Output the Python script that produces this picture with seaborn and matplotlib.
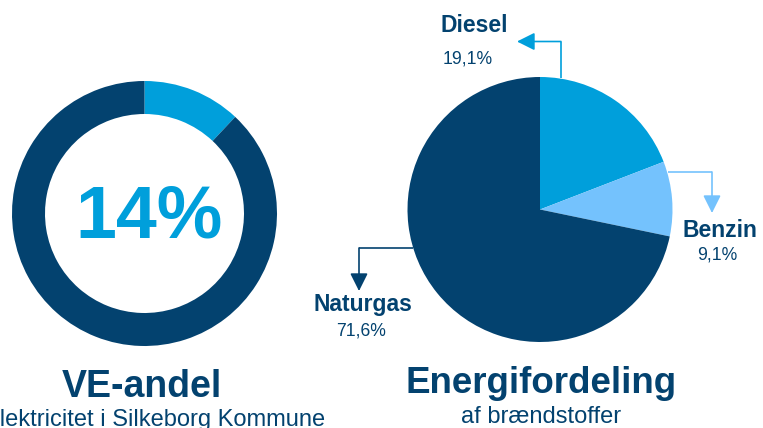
import matplotlib.pyplot as plt
import seaborn as sns

# data
ve_label = "14%"
ve_parts = [12, 88]          # share drawn in ring (VE, rest)
fuel_names = ["Diesel", "Benzin", "Naturgas"]
fuel_share = [19.1, 9.1, 71.6]
fuel_labels = ["19,1%", "9,1%", "71,6%"]

navy = "#03426F"
mid = "#009FDB"
light = "#74C2FD"
fuel_colors = [mid, light, navy]

sns.set_theme(style="white")
plt.rcParams['font.family'] = ['Liberation Sans', 'DejaVu Sans']

W, H = 763, 428
fig = plt.figure(figsize=(W / 100, H / 100), dpi=100)
ax = fig.add_axes([0, 0, 1, 1])

def Y(y):
    # pixel row -> axis y
    return H - y

# donut (VE-andel)
ax.pie(ve_parts, colors=[mid, navy], radius=132.5, center=(144.5, Y(213.5)),
       startangle=90, counterclock=False,
       wedgeprops=dict(width=33, linewidth=0))
ax.text(149, Y(237), ve_label, ha='center', va='baseline', fontsize=53,
        fontweight='bold', color=mid)
ax.text(142, Y(397), "VE-andel", ha='center', va='baseline', fontsize=27,
        fontweight='bold', color=navy)
ax.text(325, Y(426), "Elektricitet i Silkeborg Kommune", ha='right', va='baseline',
        fontsize=17, color=navy)

# pie (Energifordeling)
ax.pie(fuel_share, colors=fuel_colors, radius=132.5, center=(540, Y(209.5)),
       startangle=90, counterclock=False, wedgeprops=dict(linewidth=0))
ax.text(541, Y(393), "Energifordeling", ha='center', va='baseline', fontsize=26.5,
        fontweight='bold', color=navy)
ax.text(541, Y(423), "af brændstoffer", ha='center', va='baseline', fontsize=17,
        color=navy)

# elbow arrows: start, corner, tip  (pixel layout)
arrows = [
    ((561, 78), (561, 41.5), (517, 41.5)),
    ((668, 172), (712, 172), (712, 213)),
    ((413, 248), (359, 248), (359, 291)),
]
for (p0, p1, p2), c in zip(arrows, fuel_colors):
    ax.plot([p0[0], p1[0]], [Y(p0[1]), Y(p1[1])], color=c, lw=1.2,
            solid_capstyle='butt')
    ax.annotate("", xy=(p2[0], Y(p2[1])), xytext=(p1[0], Y(p1[1])),
                arrowprops=dict(arrowstyle='-|>,head_length=0.4,head_width=0.2',
                                color=c, lw=1.2, shrinkA=0, shrinkB=0,
                                mutation_scale=27))

# fuel labels
name_pos = [(474, 32), (720, 237), (363, 311)]
pct_pos = [(468, 63), (717, 260), (361, 335)]
for name, pct, (nx, ny), (px, py) in zip(fuel_names, fuel_labels, name_pos, pct_pos):
    ax.text(nx, Y(ny), name, ha='center', va='baseline', fontsize=16.5,
            fontweight='bold', color=navy)
    ax.text(px, Y(py), pct, ha='center', va='baseline', fontsize=12.7,
            color=navy)

ax.set_xlim(0, W)
ax.set_ylim(0, H)
ax.set_aspect('equal')
ax.axis('off')
fig.savefig("out.png", dpi=100, facecolor='white')
